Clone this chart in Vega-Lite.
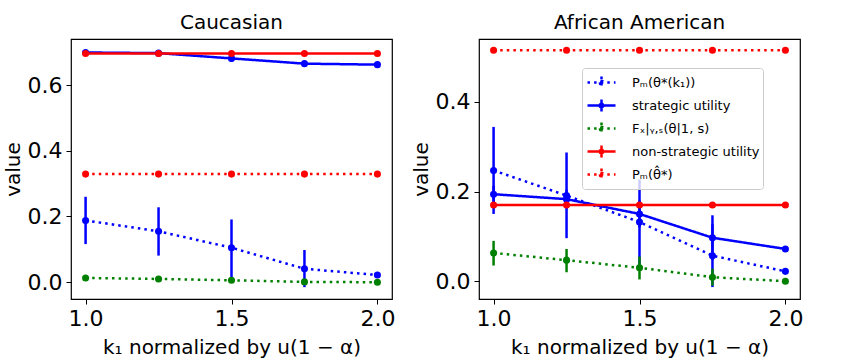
{
  "$schema": "https://vega.github.io/schema/vega-lite/v6.json",
  "padding": {"left": 2, "top": 12, "right": 5, "bottom": 2},
  "background": "white",
  "datasets": {
    "pts": [
      {"g": "Caucasian", "s": "Pₘ(θ*(k₁))", "x": 1.0, "y": 0.188, "lo": 0.116, "hi": 0.260},
      {"g": "Caucasian", "s": "Pₘ(θ*(k₁))", "x": 1.25, "y": 0.155, "lo": 0.081, "hi": 0.228},
      {"g": "Caucasian", "s": "Pₘ(θ*(k₁))", "x": 1.5, "y": 0.105, "lo": 0.012, "hi": 0.191},
      {"g": "Caucasian", "s": "Pₘ(θ*(k₁))", "x": 1.75, "y": 0.041, "lo": -0.015, "hi": 0.098},
      {"g": "Caucasian", "s": "Pₘ(θ*(k₁))", "x": 2.0, "y": 0.022, "lo": 0.019, "hi": 0.025},
      {"g": "Caucasian", "s": "strategic utility", "x": 1.0, "y": 0.699, "lo": 0.697, "hi": 0.701},
      {"g": "Caucasian", "s": "strategic utility", "x": 1.25, "y": 0.697, "lo": 0.695, "hi": 0.699},
      {"g": "Caucasian", "s": "strategic utility", "x": 1.5, "y": 0.681, "lo": 0.670, "hi": 0.691},
      {"g": "Caucasian", "s": "strategic utility", "x": 1.75, "y": 0.665, "lo": 0.662, "hi": 0.668},
      {"g": "Caucasian", "s": "strategic utility", "x": 2.0, "y": 0.662, "lo": 0.660, "hi": 0.664},
      {"g": "Caucasian", "s": "Fₓ|ᵧ,ₛ(θ|1, s)", "x": 1.0, "y": 0.013, "lo": 0.010, "hi": 0.016},
      {"g": "Caucasian", "s": "Fₓ|ᵧ,ₛ(θ|1, s)", "x": 1.25, "y": 0.010, "lo": 0.007, "hi": 0.013},
      {"g": "Caucasian", "s": "Fₓ|ᵧ,ₛ(θ|1, s)", "x": 1.5, "y": 0.006, "lo": 0.002, "hi": 0.010},
      {"g": "Caucasian", "s": "Fₓ|ᵧ,ₛ(θ|1, s)", "x": 1.75, "y": 0.001, "lo": -0.004, "hi": 0.006},
      {"g": "Caucasian", "s": "Fₓ|ᵧ,ₛ(θ|1, s)", "x": 2.0, "y": 0.0, "lo": -0.001, "hi": 0.001},
      {"g": "Caucasian", "s": "non-strategic utility", "x": 1.0, "y": 0.696},
      {"g": "Caucasian", "s": "non-strategic utility", "x": 1.25, "y": 0.696},
      {"g": "Caucasian", "s": "non-strategic utility", "x": 1.5, "y": 0.696},
      {"g": "Caucasian", "s": "non-strategic utility", "x": 1.75, "y": 0.696},
      {"g": "Caucasian", "s": "non-strategic utility", "x": 2.0, "y": 0.696},
      {"g": "Caucasian", "s": "Pₘ(θ̂*)", "x": 1.0, "y": 0.329},
      {"g": "Caucasian", "s": "Pₘ(θ̂*)", "x": 1.25, "y": 0.329},
      {"g": "Caucasian", "s": "Pₘ(θ̂*)", "x": 1.5, "y": 0.329},
      {"g": "Caucasian", "s": "Pₘ(θ̂*)", "x": 1.75, "y": 0.329},
      {"g": "Caucasian", "s": "Pₘ(θ̂*)", "x": 2.0, "y": 0.329},
      {"g": "African American", "s": "Pₘ(θ*(k₁))", "x": 1.0, "y": 0.247, "lo": 0.150, "hi": 0.344},
      {"g": "African American", "s": "Pₘ(θ*(k₁))", "x": 1.25, "y": 0.191, "lo": 0.096, "hi": 0.287},
      {"g": "African American", "s": "Pₘ(θ*(k₁))", "x": 1.5, "y": 0.132, "lo": 0.037, "hi": 0.227},
      {"g": "African American", "s": "Pₘ(θ*(k₁))", "x": 1.75, "y": 0.057, "lo": -0.013, "hi": 0.127},
      {"g": "African American", "s": "Pₘ(θ*(k₁))", "x": 2.0, "y": 0.022, "lo": 0.019, "hi": 0.025},
      {"g": "African American", "s": "strategic utility", "x": 1.0, "y": 0.194, "lo": 0.175, "hi": 0.213},
      {"g": "African American", "s": "strategic utility", "x": 1.25, "y": 0.183, "lo": 0.162, "hi": 0.204},
      {"g": "African American", "s": "strategic utility", "x": 1.5, "y": 0.150, "lo": 0.120, "hi": 0.180},
      {"g": "African American", "s": "strategic utility", "x": 1.75, "y": 0.097, "lo": 0.047, "hi": 0.147},
      {"g": "African American", "s": "strategic utility", "x": 2.0, "y": 0.072, "lo": 0.069, "hi": 0.075},
      {"g": "African American", "s": "Fₓ|ᵧ,ₛ(θ|1, s)", "x": 1.0, "y": 0.063, "lo": 0.035, "hi": 0.090},
      {"g": "African American", "s": "Fₓ|ᵧ,ₛ(θ|1, s)", "x": 1.25, "y": 0.047, "lo": 0.020, "hi": 0.072},
      {"g": "African American", "s": "Fₓ|ᵧ,ₛ(θ|1, s)", "x": 1.5, "y": 0.030, "lo": 0.004, "hi": 0.055},
      {"g": "African American", "s": "Fₓ|ᵧ,ₛ(θ|1, s)", "x": 1.75, "y": 0.009, "lo": -0.010, "hi": 0.028},
      {"g": "African American", "s": "Fₓ|ᵧ,ₛ(θ|1, s)", "x": 2.0, "y": 0.0, "lo": -0.002, "hi": 0.002},
      {"g": "African American", "s": "non-strategic utility", "x": 1.0, "y": 0.170},
      {"g": "African American", "s": "non-strategic utility", "x": 1.25, "y": 0.170},
      {"g": "African American", "s": "non-strategic utility", "x": 1.5, "y": 0.170},
      {"g": "African American", "s": "non-strategic utility", "x": 1.75, "y": 0.170},
      {"g": "African American", "s": "non-strategic utility", "x": 2.0, "y": 0.170},
      {"g": "African American", "s": "Pₘ(θ̂*)", "x": 1.0, "y": 0.515},
      {"g": "African American", "s": "Pₘ(θ̂*)", "x": 1.25, "y": 0.515},
      {"g": "African American", "s": "Pₘ(θ̂*)", "x": 1.5, "y": 0.515},
      {"g": "African American", "s": "Pₘ(θ̂*)", "x": 1.75, "y": 0.515},
      {"g": "African American", "s": "Pₘ(θ̂*)", "x": 2.0, "y": 0.515}
    ]
  },
  "data": {"name": "pts"},
  "spacing": 14,
  "resolve": {"scale": {"color": "shared", "strokeDash": "shared"}},
  "hconcat": [
    {
      "width": 321,
      "height": 260,
      "title": {"text": "Caucasian"},
      "transform": [{"filter": "datum.g === 'Caucasian'"}],
      "encoding": {
        "x": {"field": "x", "type": "quantitative", "scale": {"domain": [0.95, 2.05], "nice": false, "zero": false},
              "axis": {"values": [1.0, 1.5, 2.0], "format": ".1f", "title": "k₁ normalized by u(1 − α)"}}
      },
      "layer": [
        {
          "mark": {"type": "rule", "strokeWidth": 2.5},
          "encoding": {
            "y": {"field": "lo", "type": "quantitative", "title": "value", "scale": {"domain": [-0.051, 0.74], "nice": false, "zero": false}, "axis": {"values": [0, 0.2, 0.4, 0.6], "format": ".1f"}},
            "y2": {"field": "hi"},
            "color": {"field": "s", "type": "nominal", "scale": {"domain": ["Pₘ(θ*(k₁))", "strategic utility", "Fₓ|ᵧ,ₛ(θ|1, s)", "non-strategic utility", "Pₘ(θ̂*)"], "range": ["#0000ff", "#0000ff", "#008000", "#ff0000", "#ff0000"]}}
          }
        },
        {
          "mark": {"type": "line", "strokeWidth": 2.5},
          "encoding": {
            "y": {"field": "y", "type": "quantitative", "title": "value", "scale": {"domain": [-0.051, 0.74], "nice": false, "zero": false}},
            "color": {"field": "s", "type": "nominal"},
            "strokeDash": {"field": "s", "type": "nominal", "scale": {"domain": ["Pₘ(θ*(k₁))", "strategic utility", "Fₓ|ᵧ,ₛ(θ|1, s)", "non-strategic utility", "Pₘ(θ̂*)"], "range": [[2.5, 4.1], [1, 0], [2.5, 4.1], [1, 0], [2.5, 4.1]]}}
          }
        },
        {
          "mark": {"type": "point", "filled": true, "size": 50, "opacity": 1},
          "encoding": {
            "y": {"field": "y", "type": "quantitative", "title": "value", "scale": {"domain": [-0.051, 0.74], "nice": false, "zero": false}},
            "color": {"field": "s", "type": "nominal"}
          }
        }
      ]
    },
    {
      "width": 321,
      "height": 260,
      "title": {"text": "African American"},
      "transform": [{"filter": "datum.g === 'African American'"}],
      "encoding": {
        "x": {"field": "x", "type": "quantitative", "scale": {"domain": [0.95, 2.05], "nice": false, "zero": false},
              "axis": {"values": [1.0, 1.5, 2.0], "format": ".1f", "title": "k₁ normalized by u(1 − α)"}}
      },
      "layer": [
        {
          "mark": {"type": "rule", "strokeWidth": 2.5},
          "encoding": {
            "y": {"field": "lo", "type": "quantitative", "title": "value", "scale": {"domain": [-0.0396, 0.54], "nice": false, "zero": false}, "axis": {"values": [0, 0.2, 0.4], "format": ".1f"}},
            "y2": {"field": "hi"},
            "color": {"field": "s", "type": "nominal"}
          }
        },
        {
          "mark": {"type": "line", "strokeWidth": 2.5},
          "encoding": {
            "y": {"field": "y", "type": "quantitative", "title": "value", "scale": {"domain": [-0.0396, 0.54], "nice": false, "zero": false}},
            "color": {"field": "s", "type": "nominal"},
            "strokeDash": {"field": "s", "type": "nominal"}
          }
        },
        {
          "mark": {"type": "point", "filled": true, "size": 50, "opacity": 1},
          "encoding": {
            "y": {"field": "y", "type": "quantitative", "title": "value", "scale": {"domain": [-0.0396, 0.54], "nice": false, "zero": false}},
            "color": {"field": "s", "type": "nominal"}
          }
        }
      ]
    }
  ],
  "config": {
    "font": "DejaVu Sans",
    "view": {"stroke": "#000000", "strokeWidth": 1.2},
    "title": {"font": "DejaVu Sans", "fontSize": 20, "fontWeight": "normal", "color": "#000000", "offset": 6},
    "axis": {
      "labelFont": "DejaVu Sans", "titleFont": "DejaVu Sans",
      "labelFontSize": 22, "titleFontSize": 20, "titleFontWeight": "normal",
      "labelColor": "#000000", "titleColor": "#000000", "tickColor": "#000000",
      "tickSize": 5, "tickWidth": 1, "domain": false, "grid": false, "labelPadding": 4
    },
    "axisX": {"titlePadding": 8},
    "legend": {
      "orient": "none", "legendX": 511, "legendY": 29,
      "title": null,
      "labelFont": "DejaVu Sans", "labelFontSize": 13, "labelColor": "#000000",
      "symbolType": "M-1.4,0L1.4,0M0,-0.6L0,0.6M-0.18,0A0.18,0.18,0,1,0,0.18,0A0.18,0.18,0,1,0,-0.18,0",
      "symbolSize": 400, "symbolStrokeWidth": 2.5, "symbolOffset": 5,
      "labelOffset": 19, "rowPadding": 0, "padding": 3,
      "fillColor": "rgba(255,255,255,0.8)", "strokeColor": "#cccccc", "cornerRadius": 3
    }
  }
}
